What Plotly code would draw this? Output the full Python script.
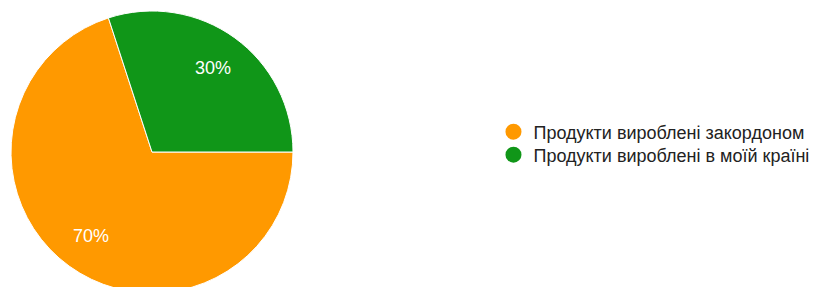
import math
import plotly.graph_objects as go

labels = ["Продукти вироблені закордоном", "Продукти вироблені в моїй країні"]
values = [70, 30]
colors = ["#ff9900", "#109618"]

W, H = 822, 287
# pie geometry in figure pixels (page body adds 8px offset)
cx, cy, r = 144, 144, 141
start_deg = 0  # first slice starts at 3 o'clock, clockwise

fig = go.Figure()
fig.add_trace(go.Pie(
    labels=labels, values=values, sort=False, direction="clockwise", rotation=90,
    marker=dict(colors=colors, line=dict(color="white", width=1)),
    textinfo="none",
    showlegend=False,
    domain=dict(x=[(cx - r) / W, (cx + r) / W], y=[1 - (cy + r) / H, 1 - (cy - r) / H]),
    hoverinfo="label+percent",
))
legend_names = ["legend", "legend2"]
for lab, col, lg in zip(labels, colors, legend_names):
    fig.add_trace(go.Scatter(
        x=[None], y=[None], mode="markers", name=lab, legend=lg,
        marker=dict(symbol="circle", size=18, color=col),
    ))

total = sum(values)
ang = start_deg
annotations = []
for v in values:
    span = 360 * v / total
    mid = math.radians(ang - span / 2)
    ang -= span
    px = cx + 0.735 * r * math.cos(mid)
    py = cy - 0.735 * r * math.sin(mid)
    annotations.append(dict(
        x=px / W, y=1 - py / H, xref="paper", yref="paper", showarrow=False,
        text=f"{v / total * 100:.0f}%", xanchor="center", yanchor="middle",
        font=dict(color="white", size=18, family="Arial, Liberation Sans, sans-serif"),
    ))

legend_font = dict(size=18, color="#222", family="Arial, Liberation Sans, sans-serif")
fig.update_layout(
    width=W, height=H, margin=dict(l=0, r=0, t=0, b=0),
    paper_bgcolor="white", plot_bgcolor="white",
    xaxis=dict(visible=False), yaxis=dict(visible=False),
    legend=dict(x=0.5906, y=0.568, xanchor="left", yanchor="middle", font=legend_font,
                bgcolor="rgba(0,0,0,0)"),
    legend2=dict(x=0.5906, y=0.488, xanchor="left", yanchor="middle", font=legend_font,
                 bgcolor="rgba(0,0,0,0)"),
    annotations=annotations,
    font=dict(family="Arial, Liberation Sans, sans-serif"),
)
fig.write_html("out.html")
